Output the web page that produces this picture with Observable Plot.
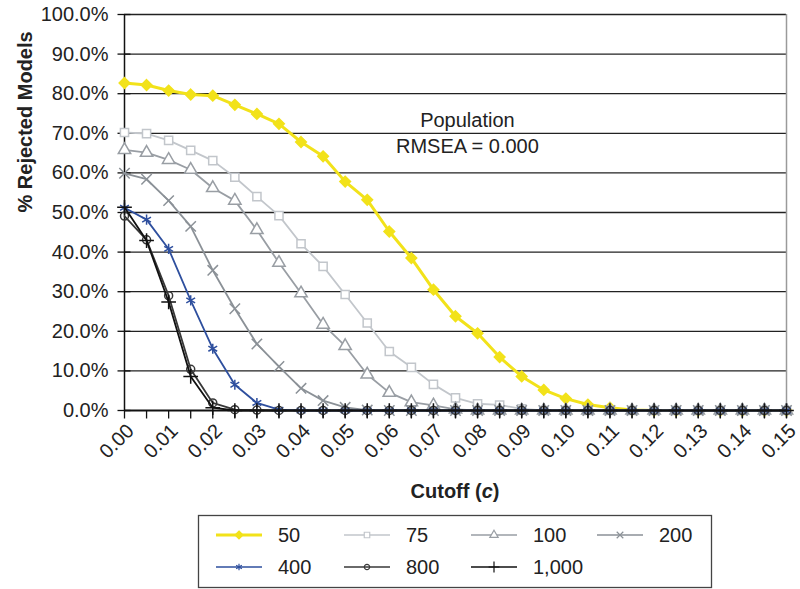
<!DOCTYPE html>
<html><head><meta charset="utf-8">
<script src="https://cdn.jsdelivr.net/npm/d3@7"></script>
<script src="https://cdn.jsdelivr.net/npm/@observablehq/plot@0.6"></script>
<style>
body{margin:0;background:#fff;font-family:"Liberation Sans",Arial,sans-serif}
#chart svg, #legend svg{display:block}
</style>
</head><body><div id="chart"></div><div id="legend"></div><script>
// Cutoff values (x)
const cutoffs = [0, 0.005, 0.01, 0.015, 0.02, 0.025, 0.03, 0.035, 0.04, 0.045, 0.05, 0.055, 0.06, 0.065, 0.07, 0.075, 0.08, 0.085, 0.09, 0.095, 0.1, 0.105, 0.11, 0.115, 0.12, 0.125, 0.13, 0.135, 0.14, 0.145, 0.15];
const xTickLabels = ["0.00","0.01","0.02","0.03","0.04","0.05","0.06","0.07","0.08","0.09","0.10","0.11","0.12","0.13","0.14","0.15"];
const yTicks = [0, 10, 20, 30, 40, 50, 60, 70, 80, 90, 100];
const sampleSizes = ["50", "75", "100", "200", "400", "800", "1,000"];
// % rejected models per sample size
const n50   = [82.7, 82.2, 80.8, 79.8, 79.5, 77.2, 74.9, 72.4, 67.8, 64.2, 57.8, 53.2, 45.2, 38.5, 30.5, 23.8, 19.5, 13.5, 8.6, 5.2, 3.0, 1.5, 0.7, 0.1, 0, 0, 0, 0, 0, 0, 0];
const n75   = [70.2, 69.9, 68.2, 65.7, 63.1, 58.9, 54.0, 49.2, 42.1, 36.4, 29.3, 22.1, 14.9, 10.9, 6.6, 3.2, 1.7, 1.4, 0.4, 0, 0, 0, 0, 0, 0, 0, 0, 0, 0, 0, 0];
const n100  = [65.8, 65.1, 63.3, 60.8, 56.2, 53.0, 45.6, 37.3, 29.6, 21.7, 16.3, 9.1, 4.5, 2.1, 1.3, 0.3, 0, 0, 0, 0, 0, 0, 0, 0, 0, 0, 0, 0, 0, 0, 0];
const n200  = [59.9, 58.4, 53.0, 46.5, 35.4, 25.7, 16.8, 11.1, 5.6, 2.5, 0.8, 0.1, 0, 0, 0, 0, 0, 0, 0, 0, 0, 0, 0, 0, 0, 0, 0, 0, 0, 0, 0];
const n400  = [51.2, 48.2, 40.8, 27.8, 15.6, 6.5, 1.9, 0.2, 0, 0, 0, 0, 0, 0, 0, 0, 0, 0, 0, 0, 0, 0, 0, 0, 0, 0, 0, 0, 0, 0, 0];
const n800  = [49.1, 43.1, 29.0, 10.4, 1.9, 0.2, 0.1, 0, 0, 0, 0, 0, 0, 0, 0, 0, 0, 0, 0, 0, 0, 0, 0, 0, 0, 0, 0, 0, 0, 0, 0];
const n1000 = [51.3, 42.9, 27.4, 8.6, 0.7, 0, 0, 0, 0, 0, 0, 0, 0, 0, 0, 0, 0, 0, 0, 0, 0, 0, 0, 0, 0, 0, 0, 0, 0, 0, 0];
const annotation = "Population\nRMSEA = 0.000";

const styles = [
  {symbol: "diamond2", color: "#f2e21a", fill: "#f2e21a", width: 3, r: 4.8, lsym: d3.symbolDiamond2, lsize: 40},
  {symbol: "square", color: "#c2c6cb", fill: "white", width: 1.8, r: 4.6, lsym: d3.symbolSquare, lsize: 30},
  {symbol: "triangle", color: "#999ea4", fill: "white", width: 1.8, r: 4.6, lsym: d3.symbolTriangle, lsize: 30},
  {symbol: "times", color: "#8b9197", fill: "none", width: 1.8, r: 4.8, lsym: d3.symbolTimes, lsize: 30},
  {symbol: "asterisk", color: "#2e4f9e", fill: "none", width: 1.8, r: 4.8, lsym: d3.symbolAsterisk, lsize: 30},
  {symbol: "circle", color: "#383838", fill: "none", width: 1.8, r: 4, lsym: d3.symbolCircle, lsize: 22},
  {symbol: "plus", color: "#111111", fill: "none", width: 1.8, r: 4.8, lsym: d3.symbolPlus, lsize: 40}
];
const valuesList = [n50, n75, n100, n200, n400, n800, n1000];
const seriesData = valuesList.map((vals, k) => vals.map((v, i) => ({n: sampleSizes[k], x: cutoffs[i], y: v})));

// custom tick glyphs
const yTickGlyph = {draw(ctx) { ctx.moveTo(-7, 0); ctx.lineTo(6, 0); }};
const xTickGlyph = {draw(ctx) { ctx.moveTo(0, 0); ctx.lineTo(0, 8); }};

const seriesMarks = seriesData.flatMap((d, k) => {
  const s = styles[k];
  return [
    Plot.line(d, {x: "x", y: "y", stroke: s.color, strokeWidth: s.width}),
    Plot.dot(d, {x: "x", y: "y", symbol: s.symbol, r: s.r, stroke: s.color, fill: s.fill, strokeWidth: 1.5})
  ];
});

const chart = Plot.plot({
  width: 800,
  height: 505,
  marginLeft: 124,
  marginRight: 14,
  marginTop: 14,
  marginBottom: 95,
  style: {fontFamily: "'Liberation Sans', Arial, sans-serif", fontSize: "20px", color: "#222", background: "white"},
  x: {domain: [0, 0.15], axis: null},
  y: {domain: [0, 100], axis: null},
  marks: [
    Plot.ruleY(yTicks.filter(d => d > 0), {stroke: "#222", strokeWidth: 1.3}),
    Plot.ruleX([0.15], {stroke: "#9a9a9a", strokeWidth: 1.5}),
    Plot.ruleY([0], {stroke: "#111", strokeWidth: 2}),
    Plot.ruleX([0], {stroke: "#111", strokeWidth: 1.5}),
    Plot.dot(yTicks, {x: () => 0, y: d => d, symbol: yTickGlyph, stroke: "#111", strokeWidth: 1.3, fill: "none"}),
    Plot.dot(cutoffs, {x: d => d, y: () => 0, symbol: xTickGlyph, stroke: "#111", strokeWidth: 1.3, fill: "none"}),
    Plot.text(yTicks, {x: () => 0, y: d => d, text: d => d.toFixed(1) + "%", textAnchor: "end", dx: -16, fontSize: 20, fill: "#222"}),
    Plot.text(xTickLabels, {x: d => +d, y: () => 0, text: d => d, rotate: -45, textAnchor: "end", lineAnchor: "middle", dx: 6, dy: 17, fontSize: 20, fill: "#222"}),
    Plot.text(["% Rejected Models"], {frameAnchor: "left", rotate: -90, dx: -99, lineAnchor: "middle", fontWeight: "bold", fontSize: 20, fill: "#222"}),
    Plot.text([annotation], {x: () => 0.0777, y: () => 70.3, lineAnchor: "middle", lineHeight: 1.3, fontSize: 20, fill: "#222"}),
    ...seriesMarks
  ]
});
document.getElementById("chart").appendChild(chart);

// x-axis title with italic c
const xt = d3.select(chart).append("text")
  .attr("x", 455).attr("y", 498).attr("text-anchor", "middle")
  .attr("font-weight", "bold").attr("font-size", 20).attr("fill", "#222")
  .attr("font-family", "'Liberation Sans', Arial, sans-serif");
xt.append("tspan").text("Cutoff (");
xt.append("tspan").attr("font-style", "italic").text("c");
xt.append("tspan").text(")");

// legend below the chart
const lg = d3.select("#legend").append("svg").attr("width", 800).attr("height", 84);
lg.append("rect").attr("x", 198.5).attr("y", 10.5).attr("width", 513).attr("height", 72)
  .attr("fill", "none").attr("stroke", "#444").attr("stroke-width", 1.3);
const colX = [216, 344, 471, 597];
const rowY = [30, 62];
sampleSizes.forEach((name, k) => {
  const s = styles[k];
  const cx = colX[k % 4], cy = rowY[Math.floor(k / 4)];
  const g = lg.append("g");
  g.append("line").attr("x1", cx).attr("x2", cx + 46).attr("y1", cy).attr("y2", cy)
    .attr("stroke", s.color).attr("stroke-width", k === 0 ? 3 : 1.5);
  g.append("path").attr("d", d3.symbol(s.lsym, s.lsize)()).attr("transform", `translate(${cx + 23},${cy})`)
    .attr("fill", s.fill).attr("stroke", s.color).attr("stroke-width", 1.2);
  g.append("text").attr("x", cx + 62).attr("y", cy).attr("dy", "0.35em")
    .attr("font-size", 20).attr("fill", "#222")
    .attr("font-family", "'Liberation Sans', Arial, sans-serif").text(name);
});
</script></body></html>
